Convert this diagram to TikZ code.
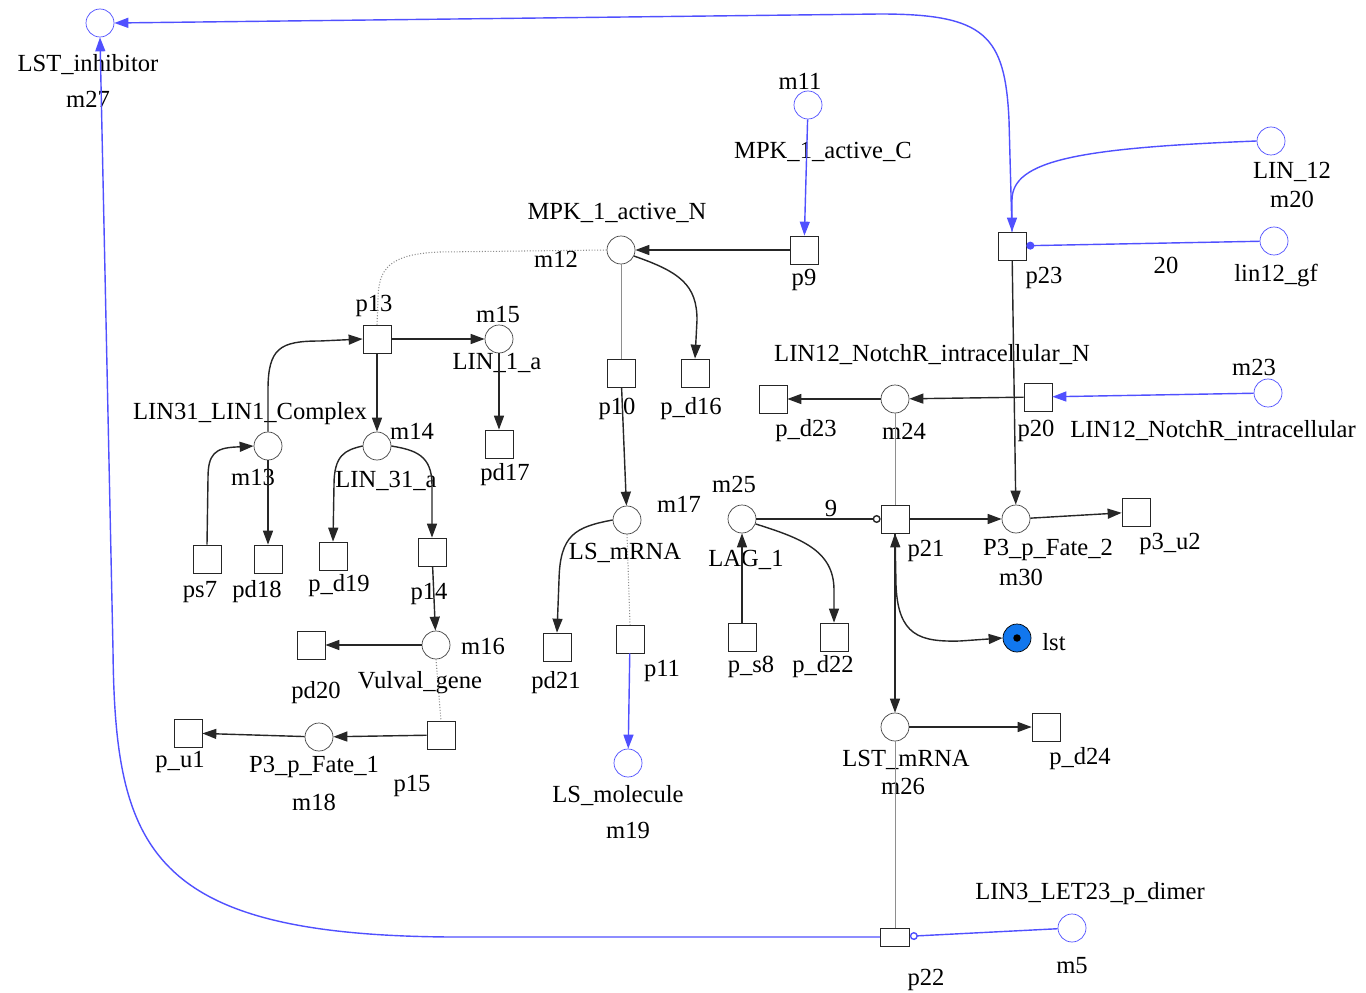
\documentclass[tikz,border=0pt]{standalone}
\usepackage{fontspec}
\setmainfont{Liberation Serif}
\usetikzlibrary{arrows.meta}
\definecolor{arcblue}{HTML}{5050FF}
\definecolor{readgray}{HTML}{8E8E8E}
\definecolor{lstfill}{HTML}{1177EE}
\definecolor{nodeedge}{HTML}{444444}

\begin{document}
\begin{tikzpicture}[x=0.02cm, y=-0.02cm,
  place/.style={circle, draw=nodeedge, fill=white, minimum size=0.56cm, inner sep=0pt},
  bplace/.style={place, draw=arcblue},
  trans/.style={rectangle, draw=black!85, fill=white, minimum size=0.56cm, inner sep=0pt},
  lbl/.style={font=\fontsize{14}{16}\selectfont, inner sep=0pt},
  arc/.style={draw=black!85, line width=0.8pt, -{Triangle[length=0.28cm, width=0.2cm]}},
  barc/.style={arc, draw=arcblue, color=arcblue},
  inh/.style={-{Circle[open, length=0.16cm]}},
  modi/.style={-{Circle[length=0.16cm]}},
  rd/.style={draw=readgray, line width=0.5pt},
  rdot/.style={rd, line width=0.6pt, densely dotted},
]
\useasboundingbox (0,0) rectangle (1366,993);
% places
\node[bplace] (m27) at (100,23) {};
\node[bplace] (m11) at (808,105) {};
\node[place]  (m12) at (621,250) {};
\node[place]  (m15) at (499,339) {};
\node[place]  (m13) at (268,446) {};
\node[place]  (m14) at (377,446) {};
\node[place]  (m16) at (436,645) {};
\node[place]  (m18) at (319,737) {};
\node[place]  (m17) at (627,520) {};
\node[bplace] (m19) at (628,763) {};
\node[place]  (m25) at (742,519) {};
\node[place]  (m30) at (1016,519) {};
\node[place, fill=lstfill, draw=black] (lst) at (1017,638) {};
\node[place]  (m26) at (895,727) {};
\node[bplace] (m5)  at (1072,928) {};
\node[place]  (m24) at (895,399) {};
\node[bplace] (m23) at (1268,393) {};
\node[bplace] (m20) at (1271,141) {};
\node[bplace] (gf)  at (1274,241) {};
\fill (lst.center) circle (0.075cm);
% transitions
\node[trans] (p9)   at (804,250) {};
\node[trans] (p13)  at (377,339) {};
\node[trans] (pd17) at (499,444) {};
\node[trans] (p10)  at (621,373) {};
\node[trans] (pd16) at (695,373) {};
\node[trans] (ps7)  at (207,559) {};
\node[trans] (pd18) at (268,559) {};
\node[trans] (pd19) at (333,556) {};
\node[trans] (p14)  at (432,552) {};
\node[trans] (pd20) at (311,645) {};
\node[trans] (p15)  at (441,735) {};
\node[trans] (pu1)  at (188,733) {};
\node[trans] (pd21) at (557,647) {};
\node[trans] (p11)  at (630,639) {};
\node[trans] (ps8)  at (742,637) {};
\node[trans] (pd22) at (834,637) {};
\node[trans] (p21)  at (895,519) {};
\node[trans] (pu2)  at (1136,512) {};
\node[trans] (pd24) at (1046,727) {};
\node[trans, minimum height=0.36cm, minimum width=0.58cm] (p22) at (895,937) {};
\node[trans] (pd23) at (773,399) {};
\node[trans] (p20)  at (1038,397) {};
\node[trans] (p23)  at (1012,246) {};
% names
\node[lbl] (m27-n) at (88,65)  {LST\_inhibitor};
\node[lbl] (m27-i) at (88,99)  {m27};
\node[lbl] (m11-i) at (800,81) {m11};
\node[lbl] (m11-n) at (823,152) {MPK\_1\_active\_C};
\node[lbl] (p9-i)  at (804,280) {p9};
\node[lbl] (m12-n) at (617,213) {MPK\_1\_active\_N};
\node[lbl] (m12-i) at (556,259) {m12};
\node[lbl] (p13-i) at (374,306) {p13};
\node[lbl] (m15-i) at (498,315) {m15};
\node[lbl] (m15-n) at (497,363) {LIN\_1\_a};
\node[lbl] (pd17-i) at (505,475) {pd17};
\node[lbl] (p10-i) at (617,409) {p10};
\node[lbl] (pd16-i) at (691,409) {p\_d16};
\node[lbl] (m13-n) at (250,414) {LIN31\_LIN1\_Complex};
\node[lbl] (m13-i) at (253,477) {m13};
\node[lbl] (m14-i) at (412,431) {m14};
\node[lbl] (m14-n) at (386,481) {LIN\_31\_a};
\node[lbl] (ps7-i) at (200,592) {ps7};
\node[lbl] (pd18-i) at (257,592) {pd18};
\node[lbl] (pd19-i) at (339,586) {p\_d19};
\node[lbl] (p14-i) at (429,594) {p14};
\node[lbl] (m16-i) at (483,646) {m16};
\node[lbl] (m16-n) at (420,683) {Vulval\_gene};
\node[lbl] (pd20-i) at (316,693) {pd20};
\node[lbl] (p15-i) at (412,786) {p15};
\node[lbl] (m18-n) at (314,767) {P3\_p\_Fate\_1};
\node[lbl] (m18-i) at (314,802) {m18};
\node[lbl] (pu1-i) at (180,762) {p\_u1};
\node[lbl] (m17-i) at (679,504) {m17};
\node[lbl] (m17-n) at (625,553) {LS\_mRNA};
\node[lbl] (pd21-i) at (556,683) {pd21};
\node[lbl] (p11-i) at (662,671) {p11};
\node[lbl] (m19-n) at (618,796) {LS\_molecule};
\node[lbl] (m19-i) at (628,830) {m19};
\node[lbl] (m25-i) at (734,484) {m25};
\node[lbl] (m25-n) at (746,560) {LAG\_1};
\node[lbl] (ps8-i) at (751,667) {p\_s8};
\node[lbl] (pd22-i) at (823,667) {p\_d22};
\node[lbl] (p21-i) at (926,551) {p21};
\node[lbl] (m30-n) at (1048,550) {P3\_p\_Fate\_2};
\node[lbl] (m30-i) at (1021,577) {m30};
\node[lbl] (pu2-i) at (1170,544) {p3\_u2};
\node[lbl] (lst-i) at (1054,642) {lst};
\node[lbl] (m26-n) at (906,760) {LST\_mRNA};
\node[lbl] (m26-i) at (903,786) {m26};
\node[lbl] (pd24-i) at (1080,759) {p\_d24};
\node[lbl] (p22-i) at (926,980) {p22};
\node[lbl] (m5-n) at (1090,894) {LIN3\_LET23\_p\_dimer};
\node[lbl] (m5-i) at (1072,966) {m5};
\node[lbl] (m24-n) at (932,355) {LIN12\_NotchR\_intracellular\_N};
\node[lbl] (m24-i) at (904,431) {m24};
\node[lbl] (pd23-i) at (806,431) {p\_d23};
\node[lbl] (p20-i) at (1036,431) {p20};
\node[lbl] (m23-i) at (1254,367) {m23};
\node[lbl] (m23-n) at (1213,431) {LIN12\_NotchR\_intracellular};
\node[lbl] (p23-i) at (1044,278) {p23};
\node[lbl] (m20-n) at (1292,172) {LIN\_12};
\node[lbl] (m20-i) at (1292,199) {m20};
\node[lbl] (gf-n) at (1276,275) {lin12\_gf};
% read arcs
\draw[rd] (m12.south) -- (p10.north);
\draw[rd] (m24.south) -- (p21.north);
\draw[rd] (m26.south) -- (p22.north);
\draw[rdot] (m16.south) -- (p15.north);
\draw[rdot] (m17.south) -- (p11.north);
\draw[rdot] (m12.west) -- (440,252) .. controls (390,254) and (378,268) .. (378,300) -- (p13.north);
% black arcs
\draw[arc] (p9) -- (m12);
\draw[arc] (m12.-25) .. controls (680,272) and (697,285) .. (697,320) -- (pd16.north);
\draw[arc] (p13) -- (m15);
\draw[arc] (p13) -- (m14);
\draw[arc] (m13.north) -- (268,390) .. controls (268,348) and (280,341) .. (320,341) -- (p13.west);
\draw[arc] (m15) -- (pd17);
\draw[arc] (ps7.north) -- (208,478) .. controls (208,454) and (215,448) .. (236,447) -- (m13.west);
\draw[arc] (m13) -- (pd18);
\draw[arc] (m14.west) .. controls (345,450) and (334,455) .. (334,485) -- (pd19.north);
\draw[arc] (m14.east) .. controls (415,450) and (432,455) .. (432,485) -- (p14.north);
\draw[arc] (p14) -- (m16);
\draw[arc] (m16) -- (pd20);
\draw[arc] (p15) -- (m18);
\draw[arc] (m18) -- (pu1);
\draw[arc] (p10) -- (m17);
\draw[arc] (m17.west) .. controls (575,527) and (560,535) .. (559,580) -- (pd21.north);
\draw[arc] (ps8) -- (m25);
\draw[arc] (m25.-20) .. controls (800,538) and (834,550) .. (834,590) -- (pd22.north);
\draw[arc, inh] (m25) -- node[lbl, above=1pt, pos=0.6] (w9) {9} (p21);
\draw[arc] (p21) -- (m30);
\draw[arc] (m30) -- (pu2);
\draw[arc] (p23) -- (m30);
\draw[arc] (p21) -- (m26);
\draw[arc, {Triangle[length=0.28cm, width=0.2cm]}-{Triangle[length=0.28cm, width=0.2cm]}] (p21.south) -- (896,585) .. controls (898,636) and (920,642) .. (960,641) -- (lst.west);
\draw[arc] (m26) -- (pd24);
\draw[arc] (p20) -- (m24);
\draw[arc] (m24) -- (pd23);
% blue arcs
\draw[barc] (m11) -- (p9);
\draw[barc] (p11) -- (m19);
\draw[barc] (m23) -- (p20);
\draw[barc, modi] (gf) -- (p23);
\node[lbl] (w20) at (1166,265) {20};
\draw[barc, inh] (m5) -- (p22);
\draw[barc] (m20.west) .. controls (1080,148) and (1012,160) .. (1012,200) -- (p23.north);
\draw[barc] (p23.north) -- (1009,120) .. controls (1005,35) and (985,14) .. (880,14) -- (m27.east);
\draw[barc] (p22.west) -- (450,937) .. controls (150,935) and (115,850) .. (113,650) -- (m27.south);
\end{tikzpicture}
\end{document}
